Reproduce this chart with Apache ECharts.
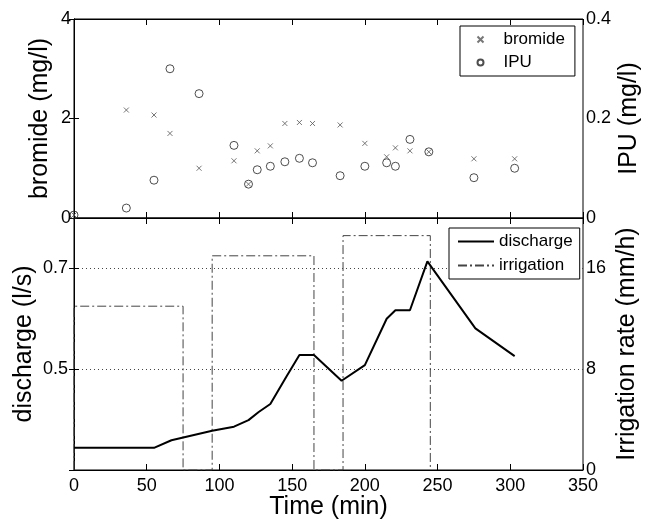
<!DOCTYPE html>
<html>
<head>
<meta charset="utf-8">
<script src="https://cdn.jsdelivr.net/npm/echarts@6/dist/echarts.min.js"></script>
<style>
html,body{margin:0;padding:0;background:#fff;}
#c{width:648px;height:519px;}
</style>
</head>
<body>
<div id="c"></div>
<script>
// ---- data ----
var sampleTime = [0, 36, 55, 66, 86, 110, 120, 126, 135, 145, 155, 164, 183, 200, 215, 221, 231, 244, 275, 303];
var bromide    = [0.06, 2.17, 2.07, 1.70, 1.00, 1.15, 0.68, 1.35, 1.45, 1.90, 1.92, 1.90, 1.87, 1.50, 1.23, 1.41, 1.35, 1.33, 1.19, 1.19];
var ipu        = [0.006, 0.020, 0.076, 0.300, 0.250, 0.146, 0.068, 0.097, 0.104, 0.113, 0.120, 0.111, 0.085, 0.104, 0.111, 0.104, 0.158, 0.133, 0.081, 0.100];

var dischargeTime = [0, 55, 67, 95, 110, 120, 127, 135, 146, 155, 165, 184, 200, 215, 221, 231, 243, 276, 303];
var discharge     = [0.344, 0.344, 0.359, 0.378, 0.386, 0.399, 0.415, 0.431, 0.485, 0.528, 0.528, 0.477, 0.508, 0.600, 0.617, 0.617, 0.714, 0.581, 0.526];

var irrigationTime = [0, 0, 75, 75, 95, 95, 165, 165, 185, 185, 245, 245];
var irrigationRate = [0, 13, 13, 0, 0, 17, 17, 0, 0, 18.6, 18.6, 0];

var xTicks = [0, 50, 100, 150, 200, 250, 300, 350];

function zip(a, b) { return a.map(function (v, i) { return [v, b[i]]; }); }

var FONT = "'Liberation Sans', Arial, Helvetica, sans-serif";
var TICK_FS = 18, NAME_FS = 25;
var chart = echarts.init(document.getElementById('c'), null, {renderer: 'canvas'});

function xAx(grid, pos, labels) {
  return {
    type: 'value', gridIndex: grid, position: pos,
    min: xTicks[0], max: xTicks[xTicks.length - 1], interval: xTicks[1] - xTicks[0],
    axisLine: {show: true, onZero: false, lineStyle: {color: '#000', width: 1}},
    axisTick: {show: true, inside: true, length: 6, lineStyle: {color: '#000'}},
    axisLabel: {show: labels, color: '#000', fontSize: TICK_FS, fontFamily: FONT, margin: 7},
    splitLine: {show: false}
  };
}

function lbl(extra) {
  return Object.assign({color: '#000', fontSize: TICK_FS, fontFamily: FONT, margin: 3,
    verticalAlign: 'middle'}, extra || {});
}

function nameStyle() { return {color: '#000', fontSize: NAME_FS, fontFamily: FONT}; }

var option = {
  animation: false,
  backgroundColor: '#fff',
  textStyle: {fontFamily: FONT, color: '#000'},
  grid: [
    {left: 74, top: 19, width: 509, height: 199, show: true, borderColor: '#000', borderWidth: 1,
     containLabel: false, outerBoundsMode: 'none'},
    {left: 74, top: 218, width: 509, height: 252, show: true, borderColor: '#000', borderWidth: 1,
     containLabel: false, outerBoundsMode: 'none'}
  ],
  xAxis: [
    xAx(0, 'bottom', false),
    xAx(0, 'top', false),
    Object.assign(xAx(1, 'bottom', true), {
      name: 'Time (min)', nameLocation: 'middle', nameGap: 25, nameMoveOverlap: false,
      nameTextStyle: nameStyle()
    }),
    xAx(1, 'top', false)
  ],
  yAxis: [
    {
      type: 'value', gridIndex: 0, position: 'left', min: 0, max: 4, interval: 2,
      name: 'bromide (mg/l)', nameLocation: 'middle', nameGap: 21, nameRotate: 90, nameMoveOverlap: false,
      nameTextStyle: nameStyle(),
      axisLine: {show: true, lineStyle: {color: '#000'}},
      axisTick: {show: true, inside: true, length: 5, lineStyle: {color: '#000'}},
      axisLabel: lbl(),
      splitLine: {show: false}
    },
    {
      type: 'value', gridIndex: 0, position: 'right', min: 0, max: 0.4, interval: 0.2,
      name: 'IPU (mg/l)', nameLocation: 'middle', nameGap: 34, nameRotate: 90, nameMoveOverlap: false,
      nameTextStyle: nameStyle(),
      axisLine: {show: true, lineStyle: {color: '#000'}},
      axisTick: {show: true, inside: true, length: 5, lineStyle: {color: '#000'}},
      axisLabel: lbl(),
      splitLine: {show: false}
    },
    {
      type: 'value', gridIndex: 1, position: 'left', min: 0.3, max: 0.8, interval: 0.2,
      name: 'discharge (l/s)', nameLocation: 'middle', nameGap: 37, nameRotate: 90, nameMoveOverlap: false,
      nameTextStyle: nameStyle(),
      axisLine: {show: true, lineStyle: {color: '#000'}},
      axisTick: {show: true, inside: true, length: 5, lineStyle: {color: '#000'}},
      axisLabel: lbl({margin: 6, showMinLabel: false, showMaxLabel: false,
        formatter: function (v) { return (Math.round(v * 10) / 10).toString(); }}),
      splitLine: {show: true, lineStyle: {color: '#444', type: [1, 3], width: 1}}
    },
    {
      type: 'value', gridIndex: 1, position: 'right', min: 0, max: 20, interval: 8,
      name: 'Irrigation rate (mm/h)', nameLocation: 'middle', nameGap: 32, nameRotate: 90, nameMoveOverlap: false,
      nameTextStyle: nameStyle(),
      axisLine: {show: true, lineStyle: {color: '#000'}},
      axisTick: {show: true, inside: true, length: 5, lineStyle: {color: '#000'}},
      axisLabel: lbl({showMaxLabel: false}),
      splitLine: {show: false}
    }
  ],
  legend: [
    {
      data: ['bromide', 'IPU'], orient: 'vertical', left: 460, top: 26,
      padding: [5, 10, 5, 15], itemGap: 6, itemWidth: 22, itemHeight: 6,
      backgroundColor: '#fff', borderColor: '#000', borderWidth: 1, borderRadius: 0,
      textStyle: {color: '#000', fontSize: 17, fontFamily: FONT, lineHeight: 17, padding: [0, 0, 0, 7]}
    },
    {
      data: ['discharge', 'irrigation'], orient: 'vertical', left: 449, top: 228,
      padding: [5, 7, 5, 8], itemGap: 7, itemWidth: 36, itemHeight: 10,
      backgroundColor: '#fff', borderColor: '#000', borderWidth: 1, borderRadius: 0,
      itemStyle: {opacity: 0},
      textStyle: {color: '#000', fontSize: 17, fontFamily: FONT, lineHeight: 17}
    }
  ],
  series: [
    {
      name: 'bromide', type: 'scatter', xAxisIndex: 0, yAxisIndex: 0,
      data: zip(sampleTime, bromide),
      symbol: 'path://M0,0L10,10M10,0L0,10', symbolSize: 5,
      itemStyle: {color: 'none', borderColor: '#555', borderWidth: 1}
    },
    {
      name: 'IPU', type: 'scatter', xAxisIndex: 0, yAxisIndex: 1,
      data: zip(sampleTime, ipu),
      symbol: 'circle', symbolSize: 8,
      itemStyle: {color: 'none', borderColor: '#222', borderWidth: 1}
    },
    {
      name: 'discharge', type: 'line', xAxisIndex: 2, yAxisIndex: 2,
      data: zip(dischargeTime, discharge), symbol: 'none',
      lineStyle: {color: '#000', width: 2}, itemStyle: {color: '#000'}, z: 3
    },
    {
      name: 'irrigation', type: 'line', xAxisIndex: 2, yAxisIndex: 3,
      data: zip(irrigationTime, irrigationRate), symbol: 'none',
      lineStyle: {color: '#444', width: 1, type: [9, 3, 2, 3]}, itemStyle: {color: '#444'}, z: 2
    }
  ]
};
chart.setOption(option);
</script>
</body>
</html>
